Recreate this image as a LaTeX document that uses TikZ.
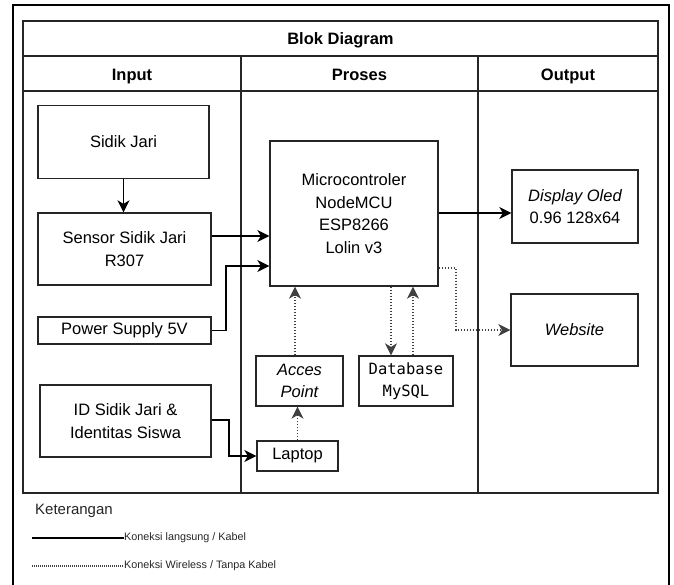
\documentclass[tikz,border=0pt]{standalone}
\usepackage{fontspec}
\setmainfont{Liberation Sans}
\newfontfamily\monofam{DejaVu Sans Mono}
\usetikzlibrary{arrows.meta}
\begin{document}
\begin{tikzpicture}[x=1pt,y=-1pt,
  box/.style={draw=black!85,line width=1.3pt,inner sep=0pt,align=center,
    font=\fontsize{16.5}{22.7}\selectfont},
  head/.style={font=\bfseries\fontsize{16.5}{20}\selectfont,inner sep=0pt,anchor=base},
  grid/.style={draw=black!85,line width=1.4pt},
  wire/.style={line width=1.8pt,-{Stealth[length=12pt,width=12pt,inset=3.5pt]}},
  wifi/.style={line width=1.5pt,draw=black!75,dash pattern=on 1.5pt off 1.5pt,
    -{Stealth[length=12pt,width=12pt,inset=3.5pt]}},
  legtext/.style={font=\fontsize{10.8}{12}\selectfont,anchor=west,inner sep=0pt,text=black!85}]
\useasboundingbox (0,0) rectangle (674,584);
% outer frame (open at the bottom)
\draw[line width=2pt] (13,586) -- (13,5) -- (669,5) -- (669,586);
% table
\draw[grid] (23,21) rectangle (658,493);
\draw[grid] (23,56) -- (658,56);
\draw[grid] (23,91) -- (658,91);
\draw[grid] (241,56) -- (241,493);
\draw[grid] (478,56) -- (478,493);
\node[head] (title) at (340.5,44.5) {Blok Diagram};
\node[head] (hin) at (132,80) {Input};
\node[head] (hpr) at (359.5,80) {Proses};
\node[head] (hout) at (568,80) {Output};
% boxes
\node[box,minimum width=171pt,minimum height=73pt] (sidik) at (123.5,142) {Sidik Jari};
\node[box,minimum width=173pt,minimum height=72pt] (sensor) at (124.5,249) {Sensor Sidik Jari\\R307};
\node[box,minimum width=173pt,minimum height=27pt] (power) at (124.5,330.5) {Power Supply 5V};
\node[box,minimum width=171pt,minimum height=72pt] (idbox) at (125.5,421) {ID Sidik Jari \&\\Identitas Siswa};
\node[box,minimum width=168pt,minimum height=145pt] (mcu) at (354,213.5) {Microcontroler\\NodeMCU\\ESP8266\\Lolin v3};
\node[box,minimum width=87pt,minimum height=50pt] (ap) at (299.5,381) {\itshape Acces\\\itshape Point};
\node[box,minimum width=94pt,minimum height=50pt,font=\monofam\fontsize{15.5}{22}\selectfont] (db) at (406,381) {Database\\MySQL};
\node[box,minimum width=81pt,minimum height=30pt] (laptop) at (297.5,456) {Laptop};
\node[box,minimum width=126pt,minimum height=73pt] (disp) at (575,206.5) {\itshape Display Oled\\0.96 128x64};
\node[box,minimum width=127pt,minimum height=72pt] (web) at (574.5,330) {\itshape Website};
% helper coordinates
\coordinate (ysens) at (0,236);
\coordinate (ypow) at (0,266);
\coordinate (xpow) at (226,0);
\coordinate (ydisp) at (0,213);
\coordinate (yweb1) at (0,268);
\coordinate (xweb) at (456,0);
\coordinate (xap) at (295,0);
\coordinate (xdb1) at (391,0);
\coordinate (xdb2) at (413,0);
\coordinate (yid) at (0,420);
\coordinate (xid) at (229,0);
% connectors
\draw[wire] (sidik.south) -- (sidik.south |- sensor.north);
\draw[wire] (sensor.east |- ysens) -- (mcu.west |- ysens);
\draw[wire] (power.east) -| (xpow |- ypow) -- (mcu.west |- ypow);
\draw[wire] (mcu.east |- ydisp) -- (disp.west |- ydisp);
\draw[wifi] (mcu.east |- yweb1) -| (xweb |- web.west) -- (web.west);
\draw[wifi] (xap |- ap.north) -- (xap |- mcu.south);
\draw[wifi] (xdb1 |- mcu.south) -- (xdb1 |- db.north);
\draw[wifi] (xdb2 |- db.north) -- (xdb2 |- mcu.south);
\draw[wifi] (laptop.north) -- (laptop.north |- ap.south);
\draw[wire] (idbox.east |- yid) -| (xid |- laptop.west) -- (laptop.west);
% legend
\node[font=\fontsize{15}{18}\selectfont,anchor=west,inner sep=0pt,text=black!85] (ket) at (35,511) {Keterangan};
\coordinate (l1a) at (32,538);
\coordinate (l2a) at (32,566);
\node[legtext] (t1) at (124,538) {Koneksi langsung / Kabel};
\node[legtext] (t2) at (124,566) {Koneksi Wireless / Tanpa Kabel};
\draw[line width=1.3pt] (l1a) -- (t1.west);
\draw[line width=1.1pt,draw=black!75,dash pattern=on 1pt off 1pt] (l2a) -- (t2.west);
\end{tikzpicture}
\end{document}
